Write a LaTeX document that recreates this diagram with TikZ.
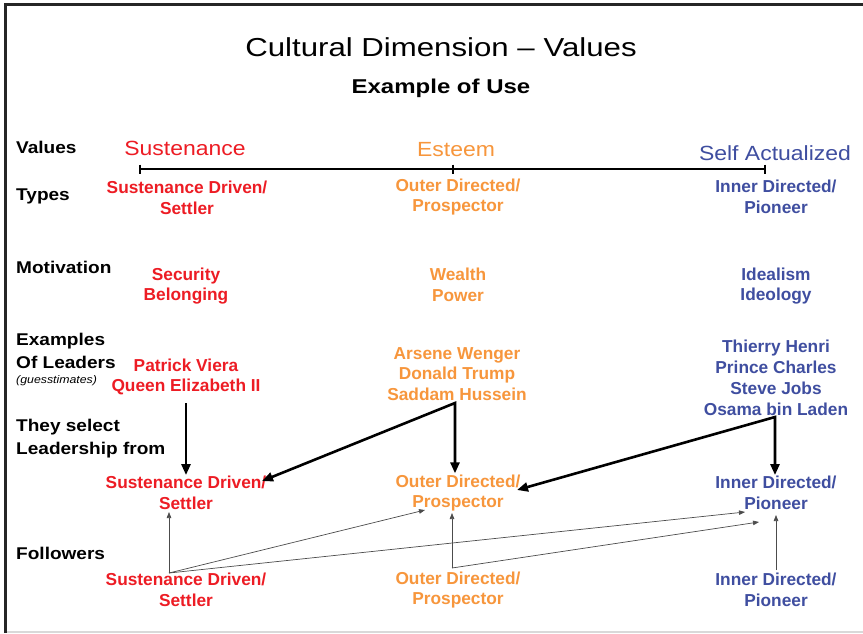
\documentclass[tikz,border=0pt]{standalone}
\usepackage{fontspec}
\setmainfont{Liberation Sans}
\newfontfamily\widefont[FakeStretch=1.12,Ligatures=TeX]{Liberation Sans}
\newfontfamily\titlefont[FakeStretch=1.2,Ligatures=TeX]{Liberation Sans}
\usetikzlibrary{arrows.meta}
\definecolor{cred}{RGB}{237,28,36}
\definecolor{corange}{RGB}{247,150,60}
\definecolor{cblue}{RGB}{63,78,160}
\begin{document}
\begin{tikzpicture}[x=1pt,y=-1pt,
  lbl/.style={font=\widefont\bfseries\fontsize{17}{23}\selectfont, anchor=west, align=left, inner sep=0pt},
  col/.style={font=\bfseries\fontsize{17.3}{20.8}\selectfont, align=center, inner sep=1pt},
  hdr/.style={font=\widefont\fontsize{20.5}{24}\selectfont, inner sep=0pt},
  thickarr/.style={line width=2.6pt, line join=miter, -{Triangle[length=11pt,width=9pt]}},
  thickarrtwo/.style={line width=2.6pt, line join=miter, {Triangle[length=11pt,width=9pt]}-{Triangle[length=11pt,width=9pt]}},
  thinarr/.style={line width=0.7pt, draw=black!70, -{Triangle[length=6pt,width=4.5pt]}}]
\useasboundingbox (0,0) rectangle (863,633);
\fill[white] (0,0) rectangle (863,633);
% frame
\draw[line width=3pt, black!85] (5,633) -- (5,4.5) -- (863,4.5);
\draw[line width=1.5pt, black!15] (7,632) -- (863,632);
% titles
\node[font=\titlefont\fontsize{26}{30}\selectfont] (title) at (441,47) {Cultural Dimension – Values};
\node[font=\titlefont\bfseries\fontsize{20}{24}\selectfont] (subtitle) at (441,88) {Example of Use};
% left labels
\node[lbl] (lvalues) at (16,147) {Values};
\node[lbl] (ltypes) at (16,196) {Types};
\node[lbl] (lmot) at (16,267) {Motivation};
\node[lbl] (lex) at (16,351) {Examples\\Of Leaders};
\node[font=\widefont\itshape\fontsize{11}{13}\selectfont, anchor=west, inner sep=0pt] (lguess) at (16,381) {(guesstimates)};
\node[lbl] (lsel) at (16,439) {They select\\Leadership from};
\node[lbl] (lfol) at (16,553) {Followers};
% headers
\node[hdr, text=cred] (hsust) at (185,148) {Sustenance};
\node[hdr, text=corange] (hest) at (456,150) {Esteem};
\node[hdr, text=cblue] (hself) at (775,153) {Self Actualized};
% axis
\coordinate (a1) at (140,169);
\coordinate (a2) at (453,169);
\coordinate (a3) at (765,169);
\draw[line width=2pt] (a1) -- (a3);
\foreach \p in {a1,a2,a3} \draw[line width=2pt] ([yshift=4.5pt]\p) -- ([yshift=-4.5pt]\p);
% types
\node[col, text=cred] (rtype) at (187,198) {Sustenance Driven/\\Settler};
\node[col, text=corange] (otype) at (458,197) {Outer Directed/\\Prospector};
\node[col, text=cblue] (btype) at (776,197) {Inner Directed/\\Pioneer};
% motivation
\node[col, text=cred] (rmot) at (186,286) {Security\\Belonging};
\node[col, text=corange] (omot) at (458,285) {Wealth\\Power};
\node[col, text=cblue] (bmot) at (776,286) {Idealism\\Ideology};
% leaders
\node[col, text=cred] (rlead) at (186,377) {Patrick Viera\\Queen Elizabeth II};
\node[col, text=corange] (olead) at (457,374) {Arsene Wenger\\Donald Trump\\Saddam Hussein};
\node[col, text=cblue] (blead) at (776,378) {Thierry Henri\\Prince Charles\\Steve Jobs\\Osama bin Laden};
% selected
\node[col, text=cred] (rsel) at (186,493) {Sustenance Driven/\\Settler};
\node[col, text=corange] (osel) at (458,493) {Outer Directed/\\Prospector};
\node[col, text=cblue] (bsel) at (776,493) {Inner Directed/\\Pioneer};
% followers
\node[col, text=cred] (rfol) at (186,590) {Sustenance Driven/\\Settler};
\node[col, text=corange] (ofol) at (458,590) {Outer Directed/\\Prospector};
\node[col, text=cblue] (bfol) at (776,590) {Inner Directed/\\Pioneer};
% thick arrows
\coordinate (rj) at (186,403);
\coordinate (oj) at (455,403);
\coordinate (bj) at (775,417);
\coordinate (rselend) at (262,481);
\coordinate (oselend) at (517,490);
\draw[thickarr] (rj) -- (rj |- rsel.north);
\draw[thickarrtwo] (rselend) -- (oj) -- (oj |- osel.north);
\draw[thickarrtwo] (oselend) -- (bj) -- (bj |- bsel.north);
% thin arrows
\coordinate (rfo) at (169,573);
\coordinate (ofo) at (452,568);
\coordinate (bfo) at (776,570);
\coordinate (rst) at (169,512);
\coordinate (ost1) at (425,510);
\coordinate (ost2) at (452,513);
\coordinate (bst1) at (745,512);
\coordinate (bst2) at (759,522);
\coordinate (bst3) at (776,515);
\draw[thinarr] (rfo) -- (rst);
\draw[thinarr] (rfo) -- (ost1);
\draw[thinarr] (rfo) -- (bst1);
\draw[thinarr] (ofo) -- (ost2);
\draw[thinarr] (ofo) -- (bst2);
\draw[thinarr] (bfo) -- (bst3);
\end{tikzpicture}
\end{document}
